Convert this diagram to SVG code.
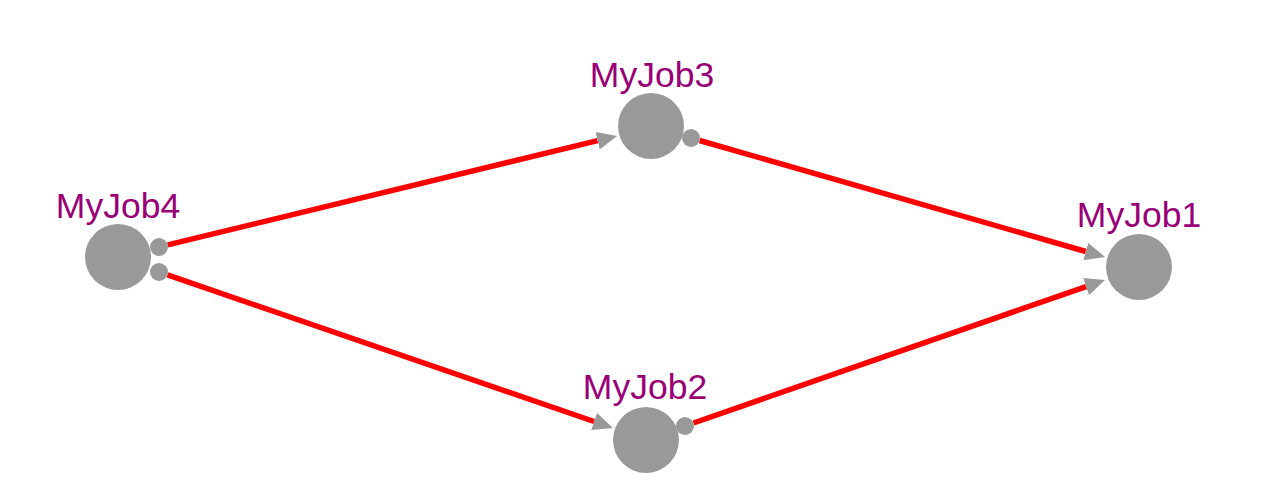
<svg xmlns="http://www.w3.org/2000/svg" width="1280" height="502" viewBox="0 0 1280 502">
<style>
.node{fill:#999999}
.port{fill:#999999}
.lbl{font-family:"Liberation Sans",Arial,sans-serif;font-size:35.5px;fill:#990077;text-anchor:middle}
.edge{stroke:#ff0000;stroke-width:5.5;fill:none;marker-end:url(#arr)}
</style>
<defs>
<marker id="arr" markerUnits="userSpaceOnUse" viewBox="0 0 20 18" markerWidth="20" markerHeight="18" refX="0" refY="9" orient="auto">
<path d="M0,0 L20,9 L0,18 z" fill="#999999"/>
</marker>
</defs>
<rect width="1280" height="502" fill="#ffffff"/>
<g id="connectors">
<line class="edge" x1="167.7" y1="244.9" x2="597.6" y2="140.7"/>
<line class="edge" x1="167.5" y1="274.9" x2="594.1" y2="421.5"/>
<line class="edge" x1="699.6" y1="140.5" x2="1085.8" y2="251.5"/>
<line class="edge" x1="693.5" y1="423.0" x2="1086.1" y2="286.6"/>
</g>
<g id="MyJob4">
<circle class="node" cx="118" cy="257" r="33"/>
<circle class="port" cx="159" cy="247" r="9"/>
<circle class="port" cx="159" cy="272" r="9"/>
<text class="lbl" x="118" y="218">MyJob4</text>
</g>
<g id="MyJob3">
<circle class="node" cx="651" cy="126" r="33"/>
<circle class="port" cx="691" cy="138" r="9"/>
<text class="lbl" x="652" y="87">MyJob3</text>
</g>
<g id="MyJob2">
<circle class="node" cx="646" cy="440" r="33"/>
<circle class="port" cx="685" cy="426" r="9"/>
<text class="lbl" x="645" y="399">MyJob2</text>
</g>
<g id="MyJob1">
<circle class="node" cx="1139" cy="267" r="33"/>
<text class="lbl" x="1139" y="227">MyJob1</text>
</g>
</svg>
